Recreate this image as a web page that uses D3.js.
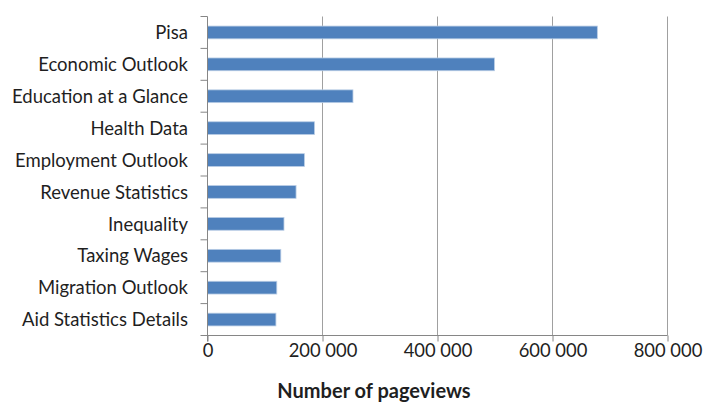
<!DOCTYPE html>
<html>
<head>
<meta charset="utf-8">
<script src="https://cdn.jsdelivr.net/npm/d3@7"></script>
<style>
  body { margin: 0; background: #fff; }
  text { font-family: Lato, "Open Sans", sans-serif; fill: #1f1f1f; }
</style>
</head>
<body>
<svg id="chart" width="703" height="402"></svg>
<script>
const categories = [
  "Pisa", "Economic Outlook", "Education at a Glance", "Health Data",
  "Employment Outlook", "Revenue Statistics", "Inequality", "Taxing Wages",
  "Migration Outlook", "Aid Statistics Details"
];
const pageviews = [678000, 499000, 253000, 186000, 168500, 154000, 133000, 127500, 120500, 119000];
const xTicks = [0, 200000, 400000, 600000, 800000];
const xTitle = "Number of pageviews";

const svg = d3.select("#chart");
const plotLeft = 207.5, plotRight = 667.5, plotTop = 16.5, plotBottom = 335.5;

const x = d3.scaleLinear().domain([0, 800000]).range([plotLeft, plotRight]);
const y = d3.scaleBand().domain(categories).range([plotTop, plotBottom])
            .paddingInner(0.6).paddingOuter(0.3);
const yEdges = d3.scaleBand().domain(categories).range([plotTop, plotBottom]).padding(0);

const fmt = d3.formatLocale({ decimal: ".", thousands: " ", grouping: [3], currency: ["", ""] }).format(",d");

// vertical gridlines
svg.append("g")
   .selectAll("line")
   .data(xTicks.slice(1))
   .enter()
   .append("line")
   .attr("x1", d => x(d)).attr("x2", d => x(d))
   .attr("y1", plotTop).attr("y2", plotBottom)
   .attr("stroke", "#a0a0a0")
   .attr("stroke-width", 1);

// bars
let data = d3.zip(categories, pageviews);
svg.append("g")
   .selectAll("rect")
   .data(data)
   .enter()
   .append("rect")
   .attr("x", x(0))
   .attr("y", d => y(d[0]))
   .attr("width", d => x(d[1]) - x(0))
   .attr("height", y.bandwidth())
   .attr("fill", "#4f81bd")
   .attr("stroke", "#b9cde5")
   .attr("stroke-width", 0.8);

// y axis line + ticks at category boundaries
let yAxis = svg.append("g").attr("stroke", "#868686").attr("stroke-width", 1);
yAxis.append("line").attr("x1", plotLeft).attr("x2", plotLeft).attr("y1", plotTop).attr("y2", plotBottom + 6);
yAxis.selectAll(".ytick")
     .data(categories.concat([null]))
     .enter()
     .append("line")
     .attr("class", "ytick")
     .attr("x1", plotLeft - 7).attr("x2", plotLeft)
     .attr("y1", (d, i) => plotTop + i * yEdges.step())
     .attr("y2", (d, i) => plotTop + i * yEdges.step());

// category labels
svg.append("g")
   .selectAll("text")
   .data(categories)
   .enter()
   .append("text")
   .attr("x", 188)
   .attr("y", d => y(d) + y.bandwidth() / 2)
   .attr("dy", "0.36em")
   .attr("text-anchor", "end")
   .style("font-size", "18.5px")
   .text(d => d);

// x axis
let xAxis = d3.axisBottom(x).tickValues(xTicks).tickSize(6).tickPadding(2).tickFormat(fmt);
let xg = svg.append("g")
   .attr("transform", `translate(0,${plotBottom})`)
   .call(xAxis);
xg.select(".domain").attr("stroke", "#868686").attr("d", `M${plotLeft},0H${plotRight}`);
xg.selectAll(".tick line").attr("stroke", "#868686");
xg.selectAll(".tick text").style("font-size", "18.4px").attr("fill", "#1f1f1f");

// axis title
svg.append("text")
   .attr("x", 374)
   .attr("y", 398)
   .attr("text-anchor", "middle")
   .style("font-size", "20px")
   .style("font-weight", "bold")
   .attr("fill", "#000")
   .text(xTitle);
</script>
</body>
</html>
